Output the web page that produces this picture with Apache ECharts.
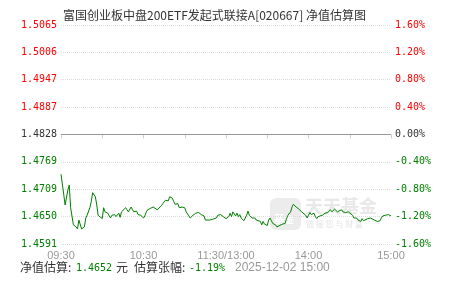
<!DOCTYPE html>
<html>
<head>
<meta charset="utf-8">
<script src="https://cdn.jsdelivr.net/npm/echarts@6/dist/echarts.min.js"></script>
<style>html,body{margin:0;padding:0;background:#fff}#c{width:451px;height:281px}</style>
</head>
<body>
<div id="c"></div>
<script>
var title = '富国创业板中盘200ETF发起式联接A[020667] 净值估算图';
var prevNav = 1.4828;
var navTickLabels = ['1.4591','1.4650','1.4709','1.4769','1.4828','1.4887','1.4947','1.5006','1.5065'];
var pctTickLabels = ['-1.60%','-1.20%','-0.80%','-0.40%','0.00%','0.40%','0.80%','1.20%','1.60%'];
var timeTickLabels = ['09:30','10:30','11:30/13:00','14:00','15:00'];
// trading minutes since 09:30 (lunch break removed)
var minutes = [0,2,3,5,6,7,9,11,12,13,14,15,16,17,18,19,21,22,23,24,25,26,27,28,30,31,32,33,34,36,37,38,39,40,42,43,44,45,47,48,49,51,52,53,55,56,58,60,61,62,63,65,67,68,70,71,73,74,76,77,78,79,81,82,83,85,86,88,90,91,93,94,96,98,100,102,104,105,106,108,110,111,113,114,116,118,119,120,122,123,124,125,127,128,129,130,131,133,135,136,137,138,139,141,142,143,145,146,147,148,150,151,152,153,154,156,157,158,161,162,163,164,165,167,168,169,170,171,173,174,175,176,178,179,180,181,182,184,185,186,187,190,192,193,194,196,197,198,199,201,202,204,205,207,209,210,212,213,215,216,218,219,220,221,223,225,226,228,230,231,232,233,234,236,238,240];
// estimated change, %
var changePct = [-0.58,-0.88,-1.03,-0.81,-0.74,-1.07,-1.32,-1.35,-1.38,-1.25,-1.27,-1.38,-1.37,-1.35,-1.22,-1.18,-1.07,-0.98,-0.85,-0.84,-0.91,-1.03,-1.18,-1.20,-1.23,-1.07,-1.13,-1.13,-1.15,-1.22,-1.18,-1.20,-1.17,-1.20,-1.15,-1.21,-1.13,-1.13,-1.07,-1.10,-1.13,-1.06,-1.10,-1.13,-1.12,-1.17,-1.18,-1.22,-1.19,-1.13,-1.10,-1.08,-1.06,-1.08,-1.10,-1.08,-1.04,-1.01,-0.96,-0.98,-0.97,-0.91,-0.93,-0.98,-1.02,-1.01,-1.07,-1.06,-1.07,-1.13,-1.19,-1.22,-1.18,-1.15,-1.14,-1.17,-1.19,-1.25,-1.27,-1.25,-1.24,-1.26,-1.22,-1.18,-1.17,-1.20,-1.18,-1.23,-1.20,-1.15,-1.20,-1.13,-1.19,-1.15,-1.20,-1.17,-1.22,-1.26,-1.18,-1.12,-1.18,-1.20,-1.22,-1.22,-1.25,-1.23,-1.27,-1.32,-1.27,-1.31,-1.33,-1.25,-1.22,-1.26,-1.30,-1.32,-1.35,-1.34,-1.31,-1.33,-1.30,-1.23,-1.18,-1.13,-1.06,-1.02,-1.01,-1.06,-1.09,-1.07,-1.13,-1.12,-1.18,-1.22,-1.18,-1.14,-1.17,-1.15,-1.20,-1.23,-1.20,-1.18,-1.15,-1.13,-1.14,-1.10,-1.13,-1.15,-1.09,-1.13,-1.12,-1.10,-1.13,-1.14,-1.13,-1.15,-1.18,-1.22,-1.22,-1.25,-1.27,-1.23,-1.26,-1.26,-1.23,-1.22,-1.22,-1.25,-1.27,-1.28,-1.26,-1.22,-1.19,-1.18,-1.17,-1.19];
var lastNav = '1.4652';
var lastPct = '-1.19%';
var lastTime = '2025-12-02 15:00';

var n = Math.min(minutes.length, changePct.length);
var seriesData = [];
for (var i = 0; i < n; i++) seriesData.push([minutes[i], changePct[i]]);

function idxOf(v){ return Math.round((Number(v) + 1.6) / 0.4); }
function styleKey(v){ var k = idxOf(v); return k > 4 ? 'up' : (k === 4 ? 'zero' : 'down'); }

var MONO = '"DejaVu Sans Mono", "Liberation Mono", monospace';
var CJK = '"Noto Sans CJK SC", sans-serif';
var labelRich = {
  up:   {color: '#ff0000', fontFamily: MONO, fontSize: 10},
  zero: {color: '#333333', fontFamily: MONO, fontSize: 10},
  down: {color: '#008000', fontFamily: MONO, fontSize: 10}
};
var chart = echarts.init(document.getElementById('c'), null, {renderer: 'canvas'});
chart.setOption({
  animation: false,
  backgroundColor: '#fff',
  title: {
    text: title, left: 58, top: 4,
    textStyle: {fontFamily: CJK, fontSize: 12, fontWeight: 'normal', color: '#333'}
  },
  grid: {left: 61, right: 60, top: 25, height: 219, containLabel: false},
  xAxis: {
    type: 'value', min: 0, max: 240, interval: 30,
    axisLine: {show: true, lineStyle: {color: '#c4d2e0', width: 1}},
    axisTick: {show: true, length: 4, lineStyle: {color: '#c4d2e0'}},
    splitLine: {show: false},
    axisLabel: {
      margin: 6, color: '#999', fontFamily: '"Liberation Sans", Arial, sans-serif', fontSize: 11,
      showMinLabel: true, showMaxLabel: true,
      formatter: function(v){ return (v % 60 === 0) ? timeTickLabels[v / 60] : ''; }
    }
  },
  yAxis: [{
    type: 'value', min: -1.6, max: 1.6, interval: 0.4, position: 'left',
    axisLine: {show: false}, axisTick: {show: false},
    splitLine: {show: true, lineStyle: {color: '#dcdcdc', type: [1, 1], width: 1}},
    axisLabel: {
      margin: 4, rich: labelRich,
      formatter: function(v){ return '{' + styleKey(v) + '|' + navTickLabels[idxOf(v)] + '}'; }
    }
  }, {
    type: 'value', min: -1.6, max: 1.6, interval: 0.4, position: 'right',
    axisLine: {show: false}, axisTick: {show: false}, splitLine: {show: false},
    axisLabel: {
      margin: 4, rich: labelRich,
      formatter: function(v){ return '{' + styleKey(v) + '|' + pctTickLabels[idxOf(v)] + '}'; }
    }
  }],
  graphic: [
    {type: 'rect', left: 270, top: 198, z: 0, silent: true,
     shape: {width: 31, height: 32, r: 6}, style: {fill: '#ececec'}},
    {type: 'text', left: 274, top: 214, z: 0, silent: true,
     style: {text: '基金', fill: '#ffffff', font: 'bold 10px "Noto Sans CJK SC"'}},
    {type: 'text', left: 305, top: 197, z: 0, silent: true,
     style: {text: '天天基金', fill: '#e8e8e8', font: 'bold 18px "Noto Sans CJK SC"'}},
    {type: 'text', left: 306, top: 220, z: 0, silent: true,
     style: {text: '链 接 您 与 财 富', fill: '#e4e4e4', font: '8px "Noto Sans CJK SC"'}},
    {type: 'text', left: 20, top: 261, silent: true,
     style: {text: '净值估算:', fill: '#333', font: '12px "Noto Sans CJK SC"'}},
    {type: 'text', left: 76, top: 263, silent: true,
     style: {text: lastNav, fill: '#008000', font: '10px "DejaVu Sans Mono"'}},
    {type: 'text', left: 116, top: 261, silent: true,
     style: {text: '元', fill: '#333', font: '12px "Noto Sans CJK SC"'}},
    {type: 'text', left: 134, top: 261, silent: true,
     style: {text: '估算张幅:', fill: '#333', font: '12px "Noto Sans CJK SC"'}},
    {type: 'text', left: 189, top: 263, silent: true,
     style: {text: lastPct, fill: '#008000', font: '10px "DejaVu Sans Mono"'}},
    {type: 'text', left: 235, top: 262, silent: true,
     style: {text: lastTime, fill: '#999', font: '12px "Liberation Sans"'}}
  ],
  series: [{
    type: 'line', yAxisIndex: 1, data: seriesData, showSymbol: false, symbol: 'none',
    lineStyle: {color: '#008000', width: 1}, z: 5,
    markLine: {
      silent: true, symbol: 'none', label: {show: false},
      lineStyle: {color: '#999', type: 'solid', width: 1},
      data: [{yAxis: 0}]
    }
  }]
});
</script>
</body>
</html>
